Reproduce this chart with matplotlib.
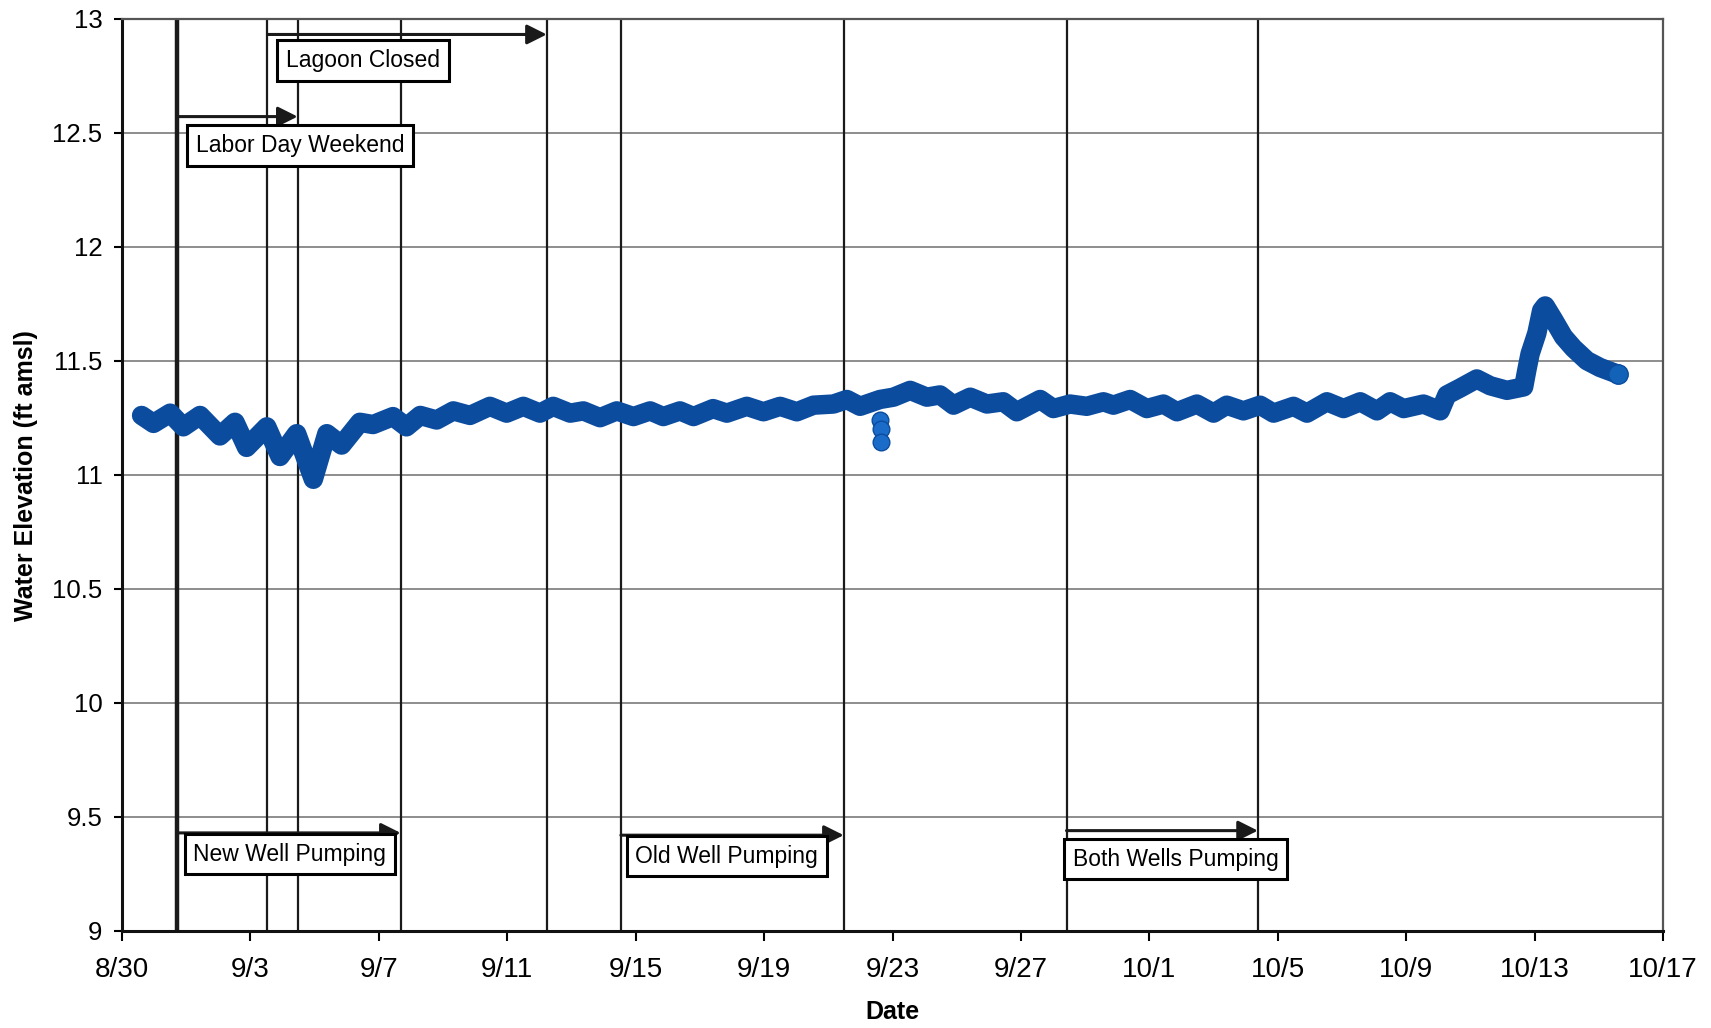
import matplotlib
matplotlib.use('Agg')
import matplotlib.pyplot as plt
from matplotlib import font_manager
import numpy as np

# days after 8/30 and water elevation (ft amsl)
day = [0.61, 0.98, 1.50, 1.91, 2.43, 3.05, 3.52, 3.88, 4.51, 4.92, 5.44, 5.96,
       6.38, 6.84, 7.41, 7.82, 8.44, 8.86, 9.29, 9.80, 10.32, 10.84, 11.46, 11.98,
       12.50, 13.02, 13.43, 13.96, 14.37, 14.89, 15.41, 15.93, 16.45, 16.86, 17.38,
       17.80, 18.41, 18.84, 19.46, 19.98, 20.50, 21.02, 21.54, 22.16, 22.58, 22.99,
       23.61, 24.03, 24.55, 25.07, 25.48, 25.90, 26.42, 26.94, 27.45, 27.87, 28.60,
       29.01, 29.53, 30.05, 30.57, 30.88, 31.40, 31.92, 32.44, 32.86, 33.48, 34.00,
       34.41, 34.93, 35.45, 35.87, 36.49, 36.91, 37.53, 38.05, 38.57, 39.09, 39.50,
       39.92, 40.54, 41.06, 41.27, 41.68, 42.20, 42.62, 43.14, 43.66, 43.76, 43.86,
       44.07, 44.22, 44.33, 44.59, 44.90, 45.21, 45.63, 46.04, 46.61]
elev = [11.26, 11.225, 11.27, 11.21, 11.26, 11.17, 11.23, 11.12, 11.21, 11.08, 11.18, 10.98,
        11.18, 11.13, 11.23, 11.22, 11.255, 11.21, 11.26, 11.24, 11.28, 11.26, 11.30, 11.27,
        11.30, 11.27, 11.30, 11.27, 11.28, 11.25, 11.28, 11.255, 11.28, 11.255, 11.28,
        11.255, 11.29, 11.27, 11.30, 11.276, 11.30, 11.276, 11.305, 11.31, 11.33, 11.30,
        11.33, 11.34, 11.37, 11.34, 11.35, 11.305, 11.34, 11.31, 11.32, 11.276, 11.33,
        11.29, 11.31, 11.30, 11.32, 11.305, 11.33, 11.29, 11.31, 11.276, 11.31, 11.27,
        11.305, 11.28, 11.305, 11.27, 11.30, 11.27, 11.32, 11.29, 11.32, 11.28, 11.32,
        11.29, 11.31, 11.28, 11.35, 11.38, 11.42, 11.39, 11.37, 11.385, 11.46, 11.53,
        11.62, 11.72, 11.74, 11.68, 11.605, 11.555, 11.50, 11.47, 11.44]

# stray readings around 9/23
odd_day = [23.61, 23.63, 23.65]
odd_elev = [11.24, 11.20, 11.145]

# event markers (vertical lines) in days after 8/30
event_days = [1.70, 4.53, 5.47, 8.68, 13.23, 15.54, 22.48, 29.42, 35.38]

# annotations: label, start day, end day, arrow level, box left day, box centre level
notes = ["Lagoon Closed", "Labor Day Weekend", "New Well Pumping",
         "Old Well Pumping", "Both Wells Pumping"]
note_start = [4.53, 1.70, 1.70, 15.54, 29.42]
note_end = [13.23, 5.47, 8.68, 22.48, 35.38]
note_arrow_y = [12.93, 12.57, 9.43, 9.42, 9.44]
note_box_x = [4.89, 2.07, 2.00, 15.77, 29.40]
note_box_y = [12.815, 12.444, 9.337, 9.328, 9.315]

base = np.datetime64('2005-08-30T00:00')
def to_dates(d):
    return base + (np.array(d) * 86400).astype('timedelta64[s]')

tick_days = list(range(0, 49, 4))

names = {f.name for f in font_manager.fontManager.ttflist}
narrow = 'Liberation Sans Narrow' if 'Liberation Sans Narrow' in names else 'Liberation Sans'
plt.rcParams['font.family'] = 'Liberation Sans'

fig = plt.figure(figsize=(17.11, 10.28), dpi=100)
ax = fig.add_axes([122/1711, 1 - 931/1028, 1541/1711, (931 - 18.5)/1028])

ax.set_xlim(to_dates([0])[0], to_dates([48])[0])
ax.set_ylim(9, 13)

# horizontal grid
ax.set_yticks(np.arange(9, 13.01, 0.5))
ax.yaxis.grid(True, color='#7a7a7a', linewidth=1.2)
ax.set_axisbelow(True)

# vertical event lines
for i, d in enumerate(event_days):
    ax.axvline(to_dates([d])[0], color='#1a1a1a', linewidth=3.2 if i == 0 else 1.6, zorder=1)

# series
ax.plot(to_dates(day), elev, color='#0b4c9f', linewidth=14, solid_joinstyle='round',
        solid_capstyle='round', zorder=3)
ax.plot(to_dates(day[-1:]), elev[-1:], linestyle='none', marker='o', markersize=14,
        markerfacecolor='#1262b8', markeredgecolor='#0b4c9f', zorder=4)
ax.plot(to_dates(odd_day), odd_elev, linestyle='none', marker='o', markersize=12,
        markerfacecolor='#1a6cc8', markeredgecolor='#0b4c9f', zorder=4)

# arrows and labelled boxes
for lab, s, e, ay, bx, by in zip(notes, note_start, note_end, note_arrow_y, note_box_x, note_box_y):
    ax.annotate('', xy=(to_dates([e])[0], ay), xytext=(to_dates([s])[0], ay),
                arrowprops=dict(arrowstyle='-|>', color='#1a1a1a', lw=2.2,
                                mutation_scale=30, shrinkA=0, shrinkB=0), zorder=5)
    ax.text(to_dates([bx + 0.22])[0], by, lab, ha='left', va='center', fontsize=16.5,
            color='black', zorder=6,
            bbox=dict(boxstyle='square,pad=0.38', facecolor='white', edgecolor='black', linewidth=2.2))

ax.set_xticks(to_dates(tick_days))
labels = []
for t in to_dates(tick_days):
    s = str(t)[5:10]
    labels.append(f"{int(s[:2])}/{int(s[3:])}")
ax.set_xticklabels(labels, fontfamily=narrow, fontsize=20)
ax.set_yticklabels([f"{v:g}" for v in np.arange(9, 13.01, 0.5)], fontsize=18.5)
ax.tick_params(axis='x', direction='out', length=7, width=1.5, pad=12, colors='black')
ax.tick_params(axis='y', direction='out', length=6, width=1.5, pad=8, colors='black')

for side in ['left', 'bottom']:
    ax.spines[side].set_color('#111111')
    ax.spines[side].set_linewidth(2.2)
for side in ['right', 'top']:
    ax.spines[side].set_color('#555555')
    ax.spines[side].set_linewidth(1.6)

fig.text(26/1711, 1 - 476/1028, 'Water Elevation (ft amsl)', rotation=90, ha='center',
         va='center', fontsize=18, fontweight='bold', fontfamily=narrow)
fig.text(892/1711, 1 - 1012/1028, 'Date', ha='center', va='center', fontsize=18,
         fontweight='bold', fontfamily=narrow)

fig.savefig('out.png', dpi=100, facecolor='white')
